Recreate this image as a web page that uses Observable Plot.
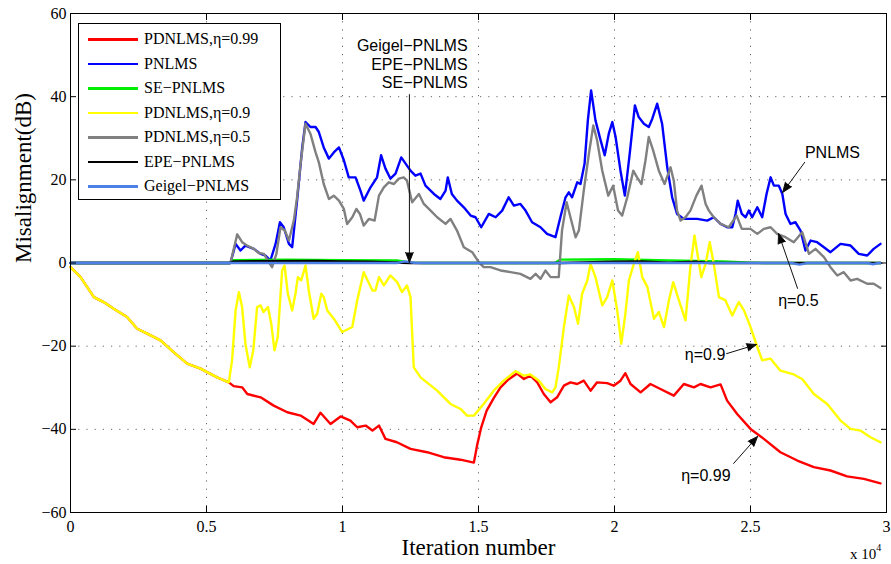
<!DOCTYPE html>
<html><head><meta charset="utf-8">
<script src="https://cdn.jsdelivr.net/npm/d3@7"></script>
<script src="https://cdn.jsdelivr.net/npm/@observablehq/plot@0.6"></script>
<style>
body{margin:0;background:#fff;}
#wrap{position:relative;width:891px;height:564px;overflow:hidden;}
#legend{position:absolute;left:78px;top:23px;width:203px;height:177px;border:1px solid #000;background:#fff;box-sizing:border-box;font-family:"Liberation Serif",serif;font-size:16px;color:#000;}
.row{position:absolute;left:0;height:20px;width:200px;}
.sw{position:absolute;left:9px;top:9px;width:50px;height:2.5px;}
.lb{position:absolute;left:65px;top:0;line-height:20px;white-space:nowrap;}
#xexp{position:absolute;left:850px;top:544px;font-family:"Liberation Serif",serif;font-size:15px;white-space:nowrap;}
#xexp sup{font-size:10px;position:relative;top:-2px;}
</style>
</head><body>
<div id="wrap"></div>
<script>
// x values are in units of 10^4 iterations, y values in dB
const xTicks = [0, 0.5, 1, 1.5, 2, 2.5, 3];
const yTicks = [-60, -40, -20, 0, 20, 40, 60];
const xTickLabels = ["0", "0.5", "1", "1.5", "2", "2.5", "3"];
const yTickLabels = ["−60", "−40", "−20", "0", "20", "40", "60"];
const xLabel = "Iteration number";
const yLabel = "Misalignment(dB)";

const seriesNames = ["PDNLMS,η=0.99", "PNLMS", "SE−PNLMS", "PDNLMS,η=0.9", "PDNLMS,η=0.5", "EPE−PNLMS", "Geigel−PNLMS"];
const seriesColors = ["#ff0000", "#0000ff", "#00ee00", "#ffff00", "#808080", "#000000", "#4d80e6"];

const commonStart = [[0,-1.0],[0.037,-3.4],[0.086,-8.2],[0.122,-9.4],[0.159,-11.0],[0.208,-13.0],[0.245,-15.8],[0.282,-17.0],[0.331,-18.6],[0.380,-21.5],[0.429,-24.2],[0.478,-25.4],[0.539,-27.5],[0.582,-28.7]];

const pdnlms099Tail = [[0.600,-29.6],[0.631,-29.9],[0.650,-31.5],[0.699,-32.3],[0.747,-34.3],[0.797,-35.9],[0.846,-36.7],[0.894,-38.7],[0.919,-36.0],[0.956,-38.7],[0.993,-36.9],[1.029,-37.9],[1.054,-39.5],[1.085,-39.1],[1.110,-40.3],[1.134,-39.1],[1.158,-42.3],[1.200,-43.1],[1.250,-44.7],[1.311,-45.5],[1.372,-46.7],[1.434,-47.3],[1.483,-48.0],[1.495,-43.8],[1.510,-39.5],[1.530,-35.5],[1.556,-32.5],[1.581,-29.9],[1.610,-28.0],[1.642,-26.6],[1.667,-27.9],[1.691,-27.1],[1.716,-28.7],[1.740,-31.5],[1.765,-33.5],[1.789,-32.3],[1.814,-29.5],[1.838,-28.7],[1.863,-29.1],[1.887,-28.3],[1.912,-30.7],[1.936,-28.7],[1.973,-28.9],[1.997,-29.5],[2.022,-28.3],[2.040,-26.5],[2.059,-29.1],[2.096,-31.1],[2.132,-29.1],[2.169,-30.3],[2.218,-31.9],[2.255,-29.1],[2.292,-29.9],[2.316,-29.1],[2.353,-29.9],[2.390,-29.2],[2.414,-33.1],[2.451,-36.3],[2.500,-39.9],[2.549,-42.3],[2.610,-45.5],[2.672,-47.5],[2.733,-49.1],[2.794,-49.9],[2.855,-51.3],[2.917,-51.9],[2.978,-53.0]];

const pdnlms09Tail = [[0.594,-23.4],[0.607,-11.4],[0.619,-7.0],[0.631,-10.6],[0.643,-19.4],[0.659,-25.1],[0.672,-21.0],[0.686,-10.6],[0.699,-10.2],[0.709,-11.8],[0.726,-10.6],[0.738,-14.6],[0.750,-21.0],[0.762,-17.8],[0.778,-1.8],[0.787,-0.6],[0.799,-7.4],[0.815,-11.4],[0.827,-7.4],[0.836,-3.4],[0.848,-4.2],[0.864,-0.6],[0.876,-6.6],[0.894,-13.4],[0.907,-12.2],[0.922,-7.4],[0.931,-8.2],[0.944,-11.4],[0.968,-13.4],[0.999,-16.6],[1.036,-15.4],[1.054,-9.0],[1.078,-2.2],[1.110,-6.6],[1.121,-6.6],[1.134,-3.4],[1.152,-5.4],[1.176,-3.0],[1.201,-4.6],[1.219,-7.0],[1.237,-5.4],[1.250,-8.2],[1.262,-25.1],[1.287,-27.5],[1.348,-30.7],[1.397,-33.9],[1.434,-35.1],[1.458,-36.7],[1.483,-36.7],[1.519,-33.9],[1.556,-30.7],[1.593,-28.3],[1.636,-26.0],[1.667,-27.1],[1.691,-26.8],[1.722,-28.3],[1.746,-30.3],[1.771,-31.1],[1.783,-29.9],[1.795,-25.1],[1.814,-15.4],[1.832,-7.8],[1.851,-10.6],[1.866,-14.6],[1.881,-7.4],[1.900,-4.2],[1.912,-0.2],[1.930,-3.4],[1.955,-10.2],[1.973,-8.2],[1.992,-4.2],[2.010,-11.4],[2.025,-19.4],[2.040,-12.2],[2.053,-4.2],[2.071,-0.2],[2.086,2.6],[2.102,-3.4],[2.121,-5.8],[2.145,-13.4],[2.163,-11.8],[2.182,-15.4],[2.200,-9.0],[2.216,-4.6],[2.233,-8.2],[2.261,-13.8],[2.279,-1.0],[2.294,6.6],[2.310,0.2],[2.319,-3.4],[2.335,-0.2],[2.350,5.0],[2.365,-0.2],[2.384,-8.2],[2.408,-9.0],[2.433,-12.6],[2.457,-9.4],[2.476,-11.4],[2.500,-15.4],[2.525,-20.2],[2.543,-23.4],[2.574,-23.0],[2.610,-25.9],[2.659,-26.8],[2.690,-27.9],[2.733,-31.5],[2.782,-33.9],[2.831,-37.9],[2.868,-39.9],[2.904,-40.3],[2.941,-41.9],[2.978,-43.1]];

const pnlms = [[0,0],[0.588,0],[0.607,4.6],[0.625,3.0],[0.643,4.2],[0.674,3.4],[0.699,2.2],[0.717,1.8],[0.735,0.6],[0.754,4.6],[0.770,9.8],[0.784,8.6],[0.803,4.6],[0.815,3.8],[0.833,15.0],[0.852,27.8],[0.864,33.9],[0.882,32.7],[0.901,32.7],[0.913,31.5],[0.931,27.8],[0.950,25.1],[0.968,26.6],[0.987,27.8],[1.005,24.7],[1.023,20.6],[1.048,20.6],[1.066,17.4],[1.078,15.0],[1.103,18.2],[1.127,20.6],[1.142,25.9],[1.158,22.7],[1.176,20.3],[1.195,21.5],[1.216,25.4],[1.232,23.9],[1.250,22.2],[1.268,21.0],[1.287,21.5],[1.305,18.6],[1.336,16.6],[1.360,15.4],[1.379,17.4],[1.387,20.6],[1.402,16.6],[1.421,15.0],[1.446,13.4],[1.471,11.4],[1.489,11.0],[1.510,8.6],[1.538,11.8],[1.563,11.0],[1.587,12.6],[1.611,15.8],[1.630,13.8],[1.654,14.2],[1.673,12.6],[1.697,9.8],[1.728,8.6],[1.752,7.0],[1.783,6.2],[1.801,11.0],[1.820,15.8],[1.832,17.0],[1.844,15.8],[1.863,19.4],[1.875,19.0],[1.890,23.9],[1.902,34.3],[1.914,41.5],[1.930,34.3],[1.949,29.5],[1.964,25.9],[1.979,31.1],[1.992,33.9],[2.004,30.3],[2.022,22.2],[2.038,16.2],[2.056,26.3],[2.075,37.9],[2.089,35.1],[2.108,33.5],[2.126,32.7],[2.139,34.7],[2.157,38.3],[2.175,33.5],[2.194,23.0],[2.212,15.8],[2.230,11.8],[2.255,10.6],[2.304,10.6],[2.341,10.2],[2.365,11.0],[2.390,9.4],[2.414,8.6],[2.433,8.6],[2.445,11.8],[2.453,15.0],[2.468,11.8],[2.482,11.0],[2.494,12.6],[2.506,11.0],[2.525,13.4],[2.543,11.0],[2.559,16.6],[2.574,20.6],[2.586,18.6],[2.604,18.6],[2.617,16.6],[2.629,11.8],[2.647,9.4],[2.665,9.8],[2.684,7.8],[2.702,3.0],[2.721,5.4],[2.745,5.0],[2.770,3.8],[2.794,2.6],[2.831,4.6],[2.868,4.2],[2.898,2.2],[2.929,1.8],[2.953,3.4],[2.978,4.6]];

const pdnlms05 = [[0,0],[0.588,0],[0.613,6.9],[0.631,5.0],[0.649,4.2],[0.674,3.4],[0.692,2.4],[0.711,2.2],[0.729,0.2],[0.741,-1.0],[0.757,2.2],[0.772,8.6],[0.788,7.8],[0.803,5.4],[0.821,10.2],[0.833,15.8],[0.846,23.9],[0.864,33.5],[0.882,31.1],[0.901,26.6],[0.913,24.2],[0.931,19.0],[0.950,15.4],[0.968,16.2],[0.987,15.0],[1.005,13.0],[1.017,9.4],[1.036,11.0],[1.051,13.0],[1.064,11.8],[1.078,9.0],[1.097,10.6],[1.118,10.2],[1.134,16.2],[1.152,18.2],[1.170,19.4],[1.189,19.0],[1.207,20.3],[1.225,20.6],[1.237,19.8],[1.256,14.6],[1.281,16.6],[1.299,14.2],[1.324,12.6],[1.348,11.0],[1.379,9.4],[1.397,10.6],[1.421,7.8],[1.446,3.8],[1.477,2.6],[1.501,0.2],[1.519,-1.0],[1.544,-1.0],[1.581,-1.8],[1.618,-2.2],[1.654,-2.6],[1.691,-3.8],[1.710,-2.6],[1.728,-3.8],[1.746,-1.8],[1.765,-3.4],[1.795,-3.4],[1.807,7.8],[1.824,14.6],[1.838,11.0],[1.857,6.2],[1.869,7.8],[1.887,17.4],[1.906,26.3],[1.922,33.1],[1.936,29.5],[1.955,22.2],[1.977,16.2],[1.995,18.6],[2.013,12.6],[2.028,11.4],[2.047,15.8],[2.069,22.2],[2.083,20.6],[2.099,19.0],[2.114,24.7],[2.126,30.3],[2.142,27.1],[2.163,22.2],[2.184,19.0],[2.206,23.0],[2.218,19.8],[2.230,12.6],[2.243,10.2],[2.261,11.0],[2.279,12.6],[2.301,16.2],[2.320,18.6],[2.335,14.2],[2.347,12.6],[2.365,11.0],[2.390,9.4],[2.420,8.6],[2.449,11.4],[2.468,8.2],[2.500,8.2],[2.525,7.0],[2.549,8.2],[2.574,8.6],[2.598,7.0],[2.629,6.2],[2.659,5.0],[2.690,7.4],[2.715,2.2],[2.739,3.4],[2.770,1.4],[2.794,-1.0],[2.819,-3.0],[2.843,-2.2],[2.868,-4.2],[2.892,-3.8],[2.929,-5.0],[2.953,-5.0],[2.978,-6.0]];

const sePnlms = [[0,0],[0.585,0],[0.60,0.7],[0.80,0.8],[1.00,0.7],[1.20,0.6],[1.25,0.1],[1.30,0],[1.78,0],[1.80,0.8],[2.00,0.9],[2.20,0.6],[2.40,0.4],[2.50,0.1],[2.55,0],[2.978,0]];
const epePnlms = [[0,0],[0.585,0],[0.60,0.4],[0.90,0.5],[1.00,0.4],[1.10,0.3],[1.25,0],[1.80,0],[2.00,0.3],[2.10,0.4],[2.20,0.1],[2.30,0.3],[2.35,0],[2.978,0]];
const geigelPnlms = [[0,0],[1.20,0],[1.23,0.4],[1.27,0],[2.65,0],[2.68,-0.4],[2.71,0],[2.93,0],[2.95,-0.3],[2.97,0],[2.978,0]];

const seriesData = [commonStart.concat(pdnlms099Tail), pnlms, sePnlms, commonStart.concat(pdnlms09Tail), pdnlms05, epePnlms, geigelPnlms];

const annotEnd = [{t:"Geigel−PNLMS", x:1.46, y:52.3},{t:"EPE−PNLMS", x:1.46, y:47.6},{t:"SE−PNLMS", x:1.46, y:43.2}];
const annotStart = [{t:"PNLMS", x:2.70, y:26.6}];
const annotMid = [{t:"η=0.5", x:2.676, y:-9.0},{t:"η=0.9", x:2.333, y:-22.0},{t:"η=0.99", x:2.336, y:-51.1}];
const arrows = [
  {x1:1.246, y1:40.5, x2:1.246, y2:0.15},
  {x1:2.699, y1:24.2, x2:2.618, y2:16.95},
  {x1:2.673, y1:-6.1, x2:2.603, y2:7.1},
  {x1:2.412, y1:-21.8, x2:2.522, y2:-19.6},
  {x1:2.438, y1:-48.2, x2:2.526, y2:-41.7}
];

const serif = "Liberation Serif, Times New Roman, serif";
const sans = "Liberation Sans, Arial, sans-serif";
const gridStyle = {stroke: "#555", strokeOpacity: 0.9, strokeWidth: 1, strokeDasharray: "1.2,7"};
const xFmt = d => xTickLabels[xTicks.indexOf(d)];
const yFmt = d => yTickLabels[yTicks.indexOf(d)];

const plot = Plot.plot({
  width: 891, height: 564,
  marginLeft: 70, marginRight: 5, marginTop: 13, marginBottom: 52,
  x: {domain: [0, 3], label: null, axis: null},
  y: {domain: [-60, 60], label: null, axis: null},
  style: {fontFamily: serif, background: "white", color: "black", overflow: "visible"},
  marks: [
    Plot.gridX(xTicks.slice(1, -1), gridStyle),
    Plot.gridY(yTicks.slice(1, -1), gridStyle),
    ...seriesData.map((d, i) => Plot.line(d, {x: p => p[0], y: p => p[1], stroke: seriesColors[i], strokeWidth: 2.4})),
    Plot.frame({stroke: "#000", strokeWidth: 1}),
    Plot.axisX(xTicks, {anchor: "bottom", tickSize: 6, dy: -6, tickFormat: () => "", label: null}),
    Plot.axisX(xTicks, {anchor: "top", tickSize: 6, dy: 6, tickFormat: () => "", label: null}),
    Plot.axisY(yTicks, {anchor: "left", tickSize: 6, dx: 6, tickFormat: () => "", label: null}),
    Plot.axisY(yTicks, {anchor: "right", tickSize: 6, dx: -6, tickFormat: () => "", label: null}),
    Plot.axisX(xTicks, {anchor: "bottom", tickSize: 0, tickPadding: 8, fontSize: 16, fontFamily: serif, tickFormat: xFmt, label: null}),
    Plot.axisY(yTicks, {anchor: "left", tickSize: 0, tickPadding: 4, fontSize: 16, fontFamily: serif, tickFormat: yFmt, label: null}),
    Plot.text([yLabel], {frameAnchor: "left", rotate: -90, dx: -47, fontSize: 23, fontFamily: serif, fill: "black"}),
    Plot.text([xLabel], {frameAnchor: "bottom", dy: 42, fontSize: 23, fontFamily: serif, fill: "black"}),
    Plot.arrow(arrows, {x1: "x1", y1: "y1", x2: "x2", y2: "y2", stroke: "#111", strokeWidth: 1, headLength: 16, headAngle: 42}),
    Plot.text(annotEnd, {x: "x", y: "y", text: "t", textAnchor: "end", fontSize: 16, fontFamily: sans, fill: "black"}),
    Plot.text(annotStart, {x: "x", y: "y", text: "t", textAnchor: "start", fontSize: 16, fontFamily: sans, fill: "black"}),
    Plot.text(annotMid, {x: "x", y: "y", text: "t", textAnchor: "middle", fontSize: 16, fontFamily: sans, fill: "black"})
  ]
});
d3.select(plot).selectAll('g[aria-label="arrow"] path').attr("fill", "#000").attr("stroke-linejoin", "miter");

const wrap = document.getElementById("wrap");
wrap.appendChild(plot);

const legend = document.createElement("div");
legend.id = "legend";
seriesNames.forEach((name, i) => {
  const row = document.createElement("div");
  row.className = "row";
  row.style.top = (5 + i * 24.5) + "px";
  const sw = document.createElement("div");
  sw.className = "sw";
  sw.style.background = seriesColors[i];
  const lb = document.createElement("div");
  lb.className = "lb";
  lb.textContent = name;
  row.appendChild(sw); row.appendChild(lb);
  legend.appendChild(row);
});
wrap.appendChild(legend);

const xexp = document.createElement("div");
xexp.id = "xexp";
xexp.innerHTML = "x 10<sup>4</sup>";
wrap.appendChild(xexp);
</script>
</body></html>
